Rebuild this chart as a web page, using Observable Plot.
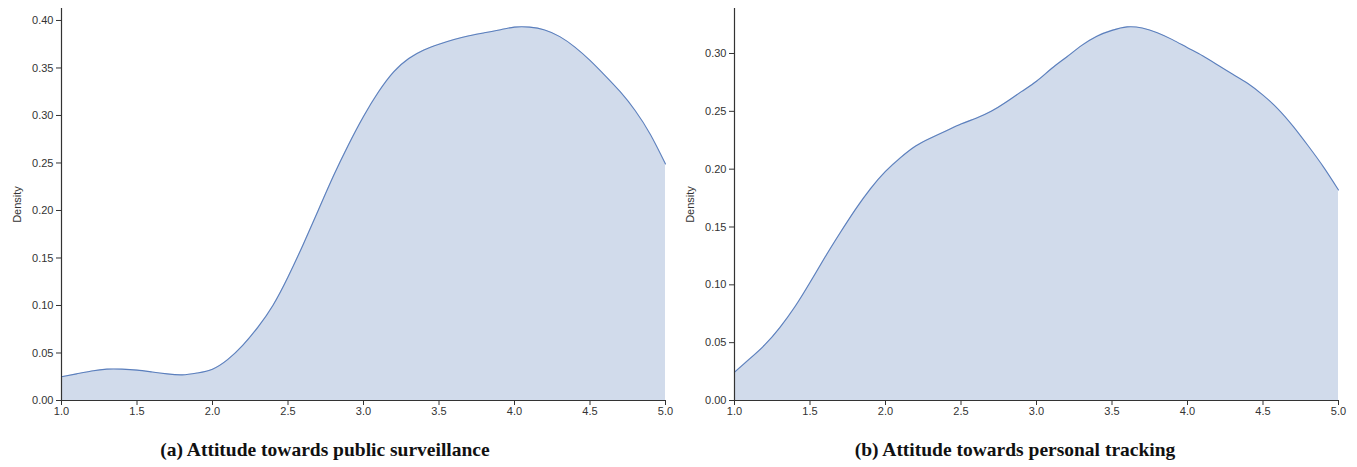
<!DOCTYPE html>
<html>
<head>
<meta charset="utf-8">
<script src="https://cdn.jsdelivr.net/npm/d3@7"></script>
<script src="https://cdn.jsdelivr.net/npm/@observablehq/plot@0.6"></script>
<style>
  body { margin: 0; background: white; width: 1357px; height: 467px; position: relative; overflow: hidden; }
  .panel { position: absolute; top: 0; }
  .cap { position: absolute; top: 439px; transform: translateX(-50%); white-space: nowrap;
         font-family: "Liberation Serif", "DejaVu Serif", serif; font-weight: bold; font-size: 19.5px; color: #111; }
</style>
</head>
<body>
<div id="a" class="panel" style="left:0px"></div>
<div id="b" class="panel" style="left:673px"></div>
<div class="cap" style="left:325px">(a) Attitude towards public surveillance</div>
<div class="cap" style="left:1015px">(b) Attitude towards personal tracking</div>
<script>
// x grid (attitude score)
const scoresA = [1.0,1.1,1.2,1.3,1.4,1.5,1.6,1.7,1.8,1.9,2.0,2.1,2.2,2.3,2.4,2.5,2.6,2.7,2.8,2.9,3.0,3.1,3.2,3.3,3.4,3.5,3.6,3.7,3.8,3.9,4.0,4.1,4.2,4.3,4.4,4.5,4.6,4.7,4.8,4.9,5.0];
// (a) public surveillance density
const densityA = [0.025,0.028,0.031,0.033,0.033,0.032,0.030,0.028,0.027,0.029,0.033,0.043,0.058,0.077,0.100,0.130,0.164,0.200,0.236,0.269,0.299,0.325,0.346,0.360,0.369,0.375,0.380,0.384,0.387,0.390,0.393,0.393,0.390,0.383,0.372,0.358,0.342,0.325,0.305,0.280,0.249];
const scoresB = scoresA;
// (b) personal tracking density
const densityB = [0.0245,0.036,0.048,0.063,0.081,0.102,0.124,0.145,0.165,0.183,0.198,0.210,0.220,0.227,0.233,0.239,0.244,0.250,0.258,0.267,0.276,0.287,0.297,0.307,0.315,0.320,0.323,0.322,0.318,0.312,0.305,0.298,0.290,0.282,0.274,0.264,0.252,0.237,0.220,0.202,0.182];
const xTicks = [1.0,1.5,2.0,2.5,3.0,3.5,4.0,4.5,5.0];
const yTicksA = [0,0.05,0.10,0.15,0.20,0.25,0.30,0.35,0.40];
const yTicksB = [0,0.05,0.10,0.15,0.20,0.25,0.30];

function panel(xs, ys, yMax, yTicks, width, marginRight) {
  const data = xs.map((x, i) => ({x, y: ys[i]}));
  return Plot.plot({
    width, height: 425,
    marginLeft: 61, marginRight, marginTop: 8, marginBottom: 25,
    style: {background: "transparent", fontFamily: "'Liberation Sans', Arial, sans-serif", fontSize: "11px", color: "#333", overflow: "visible"},
    x: {domain: [1, 5]},
    y: {domain: [0, yMax]},
    marks: [
      Plot.areaY(data, {x: "x", y: "y", curve: "natural", fill: "#d1dbeb"}),
      Plot.lineY(data, {x: "x", y: "y", curve: "natural", stroke: "#5b7fbd", strokeWidth: 1.1}),
      Plot.axisX({ticks: xTicks, tickFormat: d3.format(".1f"), tickSize: 5, tickPadding: 2, label: null, stroke: "#333"}),
      Plot.axisY({ticks: yTicks, tickFormat: d3.format(".2f"), tickSize: 5, tickPadding: 3, label: "Density", labelAnchor: "center", labelArrow: "none", labelOffset: 48, stroke: "#333"}),
      Plot.ruleX([1], {stroke: "#333", strokeWidth: 1.2}),
      Plot.ruleY([0], {stroke: "#333", strokeWidth: 1.2})
    ]
  });
}
document.getElementById("a").append(panel(scoresA, densityA, 0.4126, yTicksA, 678, 13));
document.getElementById("b").append(panel(scoresB, densityB, 0.3389, yTicksB, 684, 19));
</script>
</body>
</html>
